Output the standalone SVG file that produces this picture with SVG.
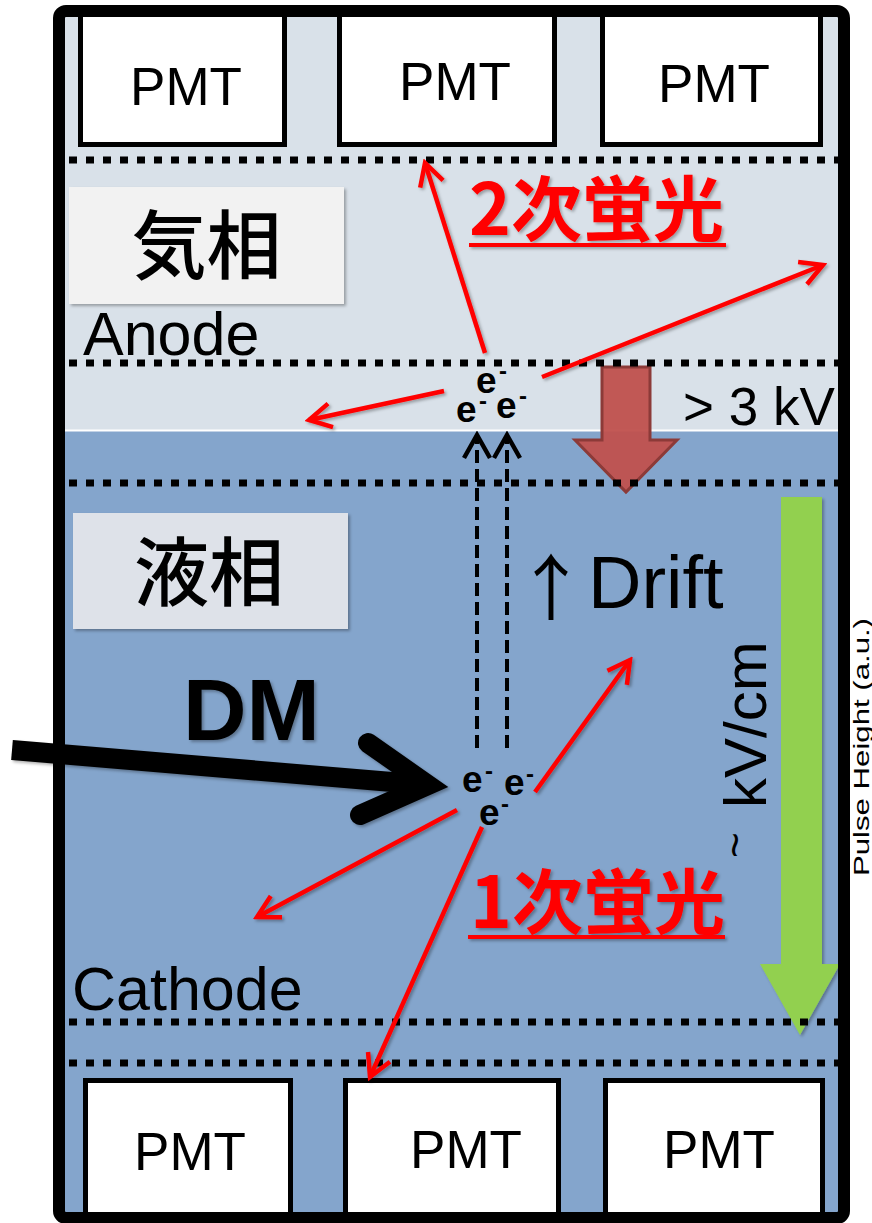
<svg xmlns="http://www.w3.org/2000/svg" width="872" height="1223" viewBox="0 0 872 1223">
<style>
.pmt rect{fill:#fff;stroke:#000;stroke-width:5}
.pmt text{font-family:"Liberation Sans",Arial,sans-serif;font-size:53px;fill:#000;text-anchor:middle}
.dots{stroke:#000;stroke-width:7;stroke-dasharray:8 9;fill:none}
.lbl{font-family:"Liberation Sans",Arial,sans-serif;fill:#000}
.cjk{font-family:"Noto Sans CJK JP","Noto Sans CJK SC",sans-serif}
.red{stroke:#ff0000;stroke-width:4.5;fill:none;marker-end:url(#rh)}
.drift{stroke:#000;stroke-width:4;stroke-dasharray:13 6;fill:none;marker-end:url(#bh)}
.el{font-family:"Liberation Sans",Arial,sans-serif;font-weight:bold;font-size:37px;fill:#000}
.el .m{font-size:24px}
.fl{font-weight:bold;font-size:71px;fill:#ff0000}
</style>
<defs>
<filter id="sh" x="-20%" y="-20%" width="140%" height="140%">
<feDropShadow dx="2" dy="2" stdDeviation="1.5" flood-color="#000" flood-opacity="0.3"/>
</filter>
<marker id="rh" markerUnits="userSpaceOnUse" markerWidth="32" markerHeight="32" viewBox="0 0 32 32" refX="28" refY="16" orient="auto">
<path d="M6,4 L28,16 L6,28" fill="none" stroke="#ff0000" stroke-width="4.5" stroke-dasharray="none"/>
</marker>
<marker id="bh" markerUnits="userSpaceOnUse" markerWidth="30" markerHeight="30" viewBox="0 0 30 30" refX="26" refY="15" orient="auto">
<path d="M3,2 L26,15 L3,28" fill="none" stroke="#000" stroke-width="4.5" stroke-dasharray="none"/>
</marker>
</defs>

<rect x="0" y="0" width="872" height="1223" fill="#fff"/>
<g id="chamber">
<rect x="62" y="14" width="780" height="417" fill="#D9E1E9"/>
<rect x="62" y="431" width="780" height="786" fill="#84A5CC"/>
<line x1="62" y1="430.5" x2="842" y2="430.5" stroke="#fff" stroke-width="2"/>
</g>

<g id="field-arrow-3kv">
<polygon points="602,367 650,367 650,440 677,440 626,492 575,440 602,440" fill="#C0504D" stroke="#8C3A38" stroke-width="3" fill-opacity="0.95"/>
</g>
<g id="field-arrow-drift" filter="url(#sh)">
<polygon points="781,497 822,497 822,964 840,964 800,1035 760,964 781,964" fill="#92D050"/>
</g>

<g id="grids">
<line class="dots" x1="69" y1="160" x2="840" y2="160"/>
<line class="dots" x1="69" y1="363" x2="840" y2="363"/>
<line class="dots" x1="69" y1="483" x2="840" y2="483"/>
<line class="dots" x1="69" y1="1022" x2="840" y2="1022"/>
<line class="dots" x1="69" y1="1063" x2="840" y2="1063"/>
</g>

<g id="pmt-top-1" class="pmt"><rect x="80.5" y="10" width="204" height="134.5"/><text x="186" y="105">PMT</text></g>
<g id="pmt-top-2" class="pmt"><rect x="339.5" y="10" width="215" height="134.5"/><text x="455" y="100">PMT</text></g>
<g id="pmt-top-3" class="pmt"><rect x="602.5" y="10" width="218" height="134.5"/><text x="714" y="102">PMT</text></g>
<g id="pmt-bottom-1" class="pmt"><rect x="85.5" y="1080.5" width="205" height="142"/><text x="190" y="1170">PMT</text></g>
<g id="pmt-bottom-2" class="pmt"><rect x="345.5" y="1080.5" width="213" height="142"/><text x="466" y="1168">PMT</text></g>
<g id="pmt-bottom-3" class="pmt"><rect x="605.5" y="1080.5" width="217" height="142"/><text x="719" y="1168">PMT</text></g>

<g id="border">
<rect x="59" y="11" width="785" height="1207" rx="7" fill="none" stroke="#000" stroke-width="12"/>
</g>

<g id="label-gas">
<rect x="69" y="187" width="275" height="117" fill="#F2F2F2" filter="url(#sh)"/>
<text class="cjk" x="206.5" y="273" font-size="75" font-weight="500" text-anchor="middle">気相</text>
</g>
<g id="label-liquid">
<rect x="73" y="513" width="275" height="116" fill="#DEE2E9" filter="url(#sh)"/>
<text class="cjk" x="209" y="600" font-size="75" font-weight="500" text-anchor="middle">液相</text>
</g>
<g id="label-anode"><text class="lbl" x="83" y="355" font-size="61">Anode</text></g>
<g id="label-cathode"><text class="lbl" x="72" y="1010" font-size="61">Cathode</text></g>
<g id="label-3kv"><text class="lbl" x="683" y="425" font-size="53">&gt; 3 kV</text></g>
<g id="label-drift">
<text class="cjk" x="551" y="614" font-size="72" text-anchor="middle">↑</text>
<text class="lbl" x="588" y="608" font-size="74">Drift</text>
</g>
<g id="label-kvcm">
<text class="lbl" transform="translate(766,858) rotate(-90)"><tspan font-size="44" dy="-16">~</tspan><tspan font-size="60" x="50" dy="16">kV/cm</tspan></text>
</g>
<g id="label-dm"><text class="lbl" x="183" y="740" font-size="88" font-weight="bold" filter="url(#sh)">DM</text></g>
<g id="label-s2" filter="url(#sh)">
<text class="cjk fl" x="469" y="235">2次蛍光</text>
<line x1="469" y1="245" x2="726" y2="245" stroke="#ff0000" stroke-width="4"/>
</g>
<g id="label-s1" filter="url(#sh)">
<text class="cjk fl" x="470" y="928">1次蛍光</text>
<line x1="468" y1="937" x2="725" y2="937" stroke="#ff0000" stroke-width="4"/>
</g>
<g id="label-pulse">
<text class="lbl" transform="translate(869,876) rotate(-90)" font-size="22" fill="#333" textLength="258" lengthAdjust="spacingAndGlyphs">Pulse Height (a.u.)</text>
</g>

<g id="electrons-gas">
<text class="el"><tspan x="476" y="393">e</tspan><tspan class="m" x="499" y="379">-</tspan><tspan x="456" y="422">e</tspan><tspan class="m" x="479" y="409">-</tspan><tspan x="496" y="418">e</tspan><tspan class="m" x="519" y="404">-</tspan></text>
</g>
<g id="electrons-liquid">
<text class="el"><tspan x="462" y="792">e</tspan><tspan class="m" x="485" y="779">-</tspan><tspan x="504" y="795">e</tspan><tspan class="m" x="526" y="782">-</tspan><tspan x="479" y="825">e</tspan><tspan class="m" x="501" y="812">-</tspan></text>
</g>

<g id="connectors">
<g filter="url(#sh)">
<line class="red" x1="485" y1="353" x2="425" y2="163"/>
<line class="red" x1="542" y1="377" x2="823" y2="265"/>
<line class="red" x1="444" y1="391" x2="309" y2="420"/>
<line class="red" x1="535" y1="792" x2="630" y2="660"/>
<line class="red" x1="457" y1="810" x2="257" y2="917"/>
<line class="red" x1="482" y1="827" x2="370" y2="1077"/>
</g>
<line class="drift" x1="477" y1="748" x2="477" y2="435"/>
<line class="drift" x1="507" y1="748" x2="507" y2="435"/>
<g id="dm-arrow" filter="url(#sh)">
<line x1="12" y1="750" x2="428" y2="785" stroke="#000" stroke-width="20"/>
<polyline points="368,743 428,785 360,815" fill="none" stroke="#000" stroke-width="20" stroke-linecap="round" stroke-linejoin="miter"/>
</g>
</g>
</svg>
